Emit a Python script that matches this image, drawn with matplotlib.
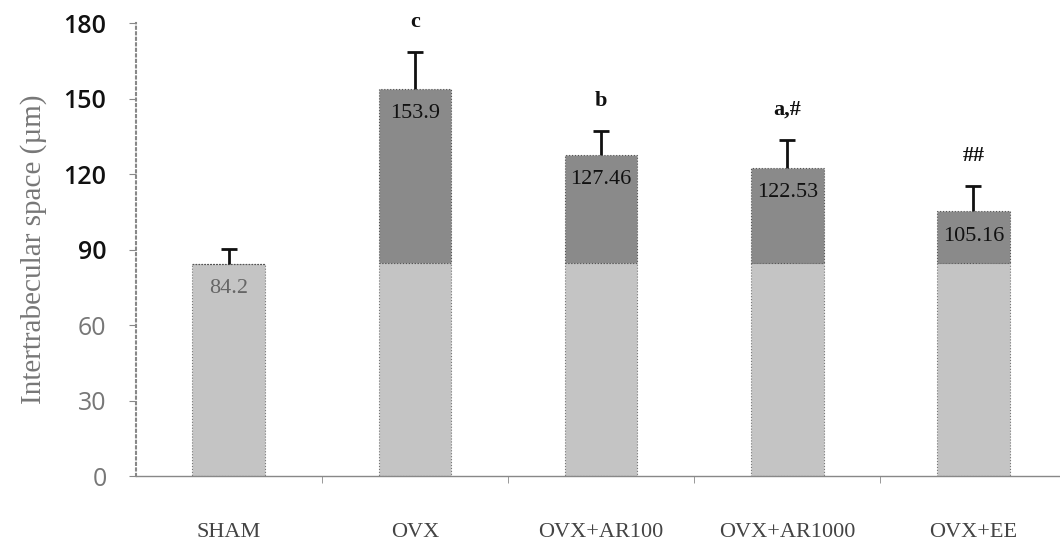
import numpy as np
import matplotlib.pyplot as plt

groups = ['SHAM', 'OVX', 'OVX+AR100', 'OVX+AR1000', 'OVX+EE']
means = [84.2, 153.9, 127.46, 122.53, 105.16]
sem = [6.0, 14.5, 9.5, 11.0, 10.0]
sig = ['', 'c', 'b', 'a,#', '##']
y_ticks = [0, 30, 60, 90, 120, 150, 180]

# shade change inside the bars
split = 84.5
light = '#c4c4c4'
dark = '#8a8a8a'

x = np.arange(len(groups))
w = 0.39

fig = plt.figure(figsize=(10.6, 5.48), dpi=100)
ax = fig.add_axes([0.128, 0.131, 0.872, 0.827])

lower = [min(m, split) for m in means]
upper = [max(m - split, 0) for m in means]
ax.bar(x, lower, w, color=light, edgecolor='#777777', linewidth=0.8, linestyle=':')
ax.bar(x, upper, w, bottom=lower, color=dark, edgecolor='#555555', linewidth=0.8, linestyle=':')

# upper error bars only
eb = ax.errorbar(x, means, yerr=[np.zeros(len(sem)), sem], fmt='none',
                 ecolor='#111111', elinewidth=2, capsize=6, capthick=2)
eb[1][0].set_visible(False)

# values printed inside the bar tops
for i, m in enumerate(means):
    col = '#666666' if i == 0 else '#111111'
    ax.text(x[i], m - 6, f'{m:g}', ha='center', va='top', fontsize=16,
            family='Liberation Serif', color=col)

# significance letters above the error bars
for i, s in enumerate(sig):
    if s:
        ax.text(x[i], means[i] + sem[i] + 8, s, ha='center', va='bottom',
                fontsize=16, family='Liberation Serif', fontweight='bold', color='#111111')

ax.set_xlim(-0.5, 4.465)
ax.set_ylim(0, 180)
ax.set_yticks(y_ticks)
ax.set_yticklabels([str(t) for t in y_ticks], fontsize=18, family='Open Sans')
for t, lab in zip(y_ticks, ax.get_yticklabels()):
    lab.set_color('#777777' if t < 90 else '#111111')
    if t >= 90:
        lab.set_fontweight('semibold')

ax.set_xticks(x)
ax.set_xticklabels(groups, fontsize=16, family='Liberation Serif', color='#444444')
ax.set_xticks(x[:-1] + 0.5, minor=True)
ax.tick_params(axis='x', which='major', length=0, pad=34)
ax.tick_params(axis='x', which='minor', length=5, color='#888888', direction='out')
ax.tick_params(axis='y', length=5, color='#888888', direction='out', pad=16)

ax.set_ylabel('Intertrabecular space (\u00b5m)', fontsize=21, family='Liberation Serif',
              color='#777777', labelpad=12)

for side in ['top', 'right']:
    ax.spines[side].set_visible(False)
ax.spines['left'].set_color('#888888')
ax.spines['left'].set_linestyle(':')
ax.spines['left'].set_linewidth(1.5)
ax.spines['bottom'].set_color('#888888')
ax.spines['bottom'].set_linewidth(1.0)

plt.savefig('out.png', dpi=100)
